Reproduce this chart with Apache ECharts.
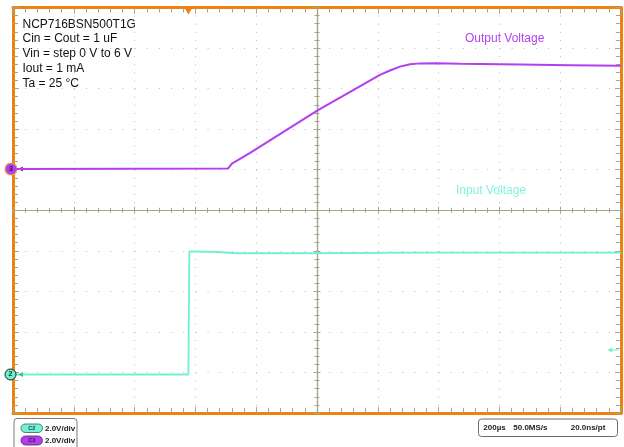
<!DOCTYPE html>
<html>
<head>
<meta charset="utf-8">
<script src="https://cdn.jsdelivr.net/npm/echarts/dist/echarts.min.js"></script>
<style>
html,body{margin:0;padding:0;background:#fff;}
#c{width:624px;height:447px;}
</style>
</head>
<body>
<div id="c"></div>
<script>
// ---- Data ----
const timePerDivUs = 200;          // 200 µs/div
const voltsPerDiv = 2;             // 2.0 V/div, both channels
const divisionsX = 10;
const divisionsY = 10;
// ground reference of each channel, in divisions from screen centre
const outputGroundDiv = 1.017;     // C3 (purple)
const inputGroundDiv = -4.05;      // C2 (cyan)

// Output voltage (C3), time in µs from left edge, volts
const outputT = [0, 707, 720, 780, 878, 1002, 1109, 1207, 1240, 1273, 1306, 1339, 1395, 1470, 1668, 1832, 2000];
const outputV = [0, 0.02, 0.27, 0.80, 1.72, 2.89, 3.80, 4.64, 4.86, 5.05, 5.17, 5.21, 5.22, 5.19, 5.15, 5.12, 5.09];

// Input voltage (C2)
const inputT = [0, 577, 580, 671, 737, 944, 1339, 2000];
const inputV = [0, 0, 6.07, 6.04, 5.98, 5.98, 6.01, 6.01];

const triggerTimeUs = 577;
const triggerLevelV = 1.21;

const infoLines = ['NCP716BSN500T1G', 'Cin = Cout = 1 uF', 'Vin = step 0 V to 6 V', 'Iout = 1 mA', 'Ta = 25 °C'];
const statusTexts = ['200µs', '50.0MS/s', '20.0ns/pt'];

// ---- Styles ----
const ORANGE = '#f0820c';
const OLIVE = '#a4a48a';
const GRIDC = '#bcbcb4';
const PURPLE = '#b23ef0';
const CYAN = '#6ff0d2';
const FONT = '"Liberation Sans", Arial, sans-serif';

const tMax = timePerDivUs * divisionsX;
const halfY = divisionsY / 2;
const gridRect = {left: 13, top: 7.5, right: 3, bottom: 34};

function frameX(pos, split) {
  return {
    gridIndex: 0, type: 'value', min: 0, max: tMax, interval: timePerDivUs, position: pos,
    axisLine: {show: true, onZero: false, lineStyle: {color: ORANGE, width: 3}},
    axisTick: {show: true, inside: true, length: 6, lineStyle: {color: OLIVE, width: 1}},
    minorTick: {show: true, splitNumber: 5, length: 5, lineStyle: {color: OLIVE, width: 1}},
    axisLabel: {show: false},
    splitLine: {show: split, lineStyle: {color: GRIDC, width: 1, type: [1, 7.11]}}
  };
}
function frameY(pos, split) {
  return {
    gridIndex: 0, type: 'value', min: -halfY, max: halfY, interval: 1, position: pos,
    axisLine: {show: true, onZero: false, lineStyle: {color: ORANGE, width: 3}},
    axisTick: {show: true, inside: true, length: 6, lineStyle: {color: OLIVE, width: 1}},
    minorTick: {show: true, splitNumber: 5, length: 5, lineStyle: {color: OLIVE, width: 1}},
    axisLabel: {show: false},
    splitLine: {show: split, lineStyle: {color: GRIDC, width: 1, type: [1, 11.16]}}
  };
}
function crossAxis(grid, inside, half) {
  return {
    gridIndex: grid, type: 'value', min: -half, max: half, interval: 1,
    axisLine: {show: true, onZero: true, lineStyle: {color: OLIVE, width: 1.2}},
    axisTick: {show: true, inside: inside, length: 3.5, lineStyle: {color: OLIVE, width: 1}},
    minorTick: {show: true, splitNumber: 5, length: 2.5, lineStyle: {color: OLIVE, width: 1}},
    axisLabel: {show: false}, splitLine: {show: false}
  };
}
function hiddenAxis(grid, min, max) {
  return {gridIndex: grid, type: 'value', min: min, max: max, show: false, splitLine: {show: false}};
}

const outMin = (-halfY - outputGroundDiv) * voltsPerDiv, outMax = (halfY - outputGroundDiv) * voltsPerDiv;
const inMin = (-halfY - inputGroundDiv) * voltsPerDiv, inMax = (halfY - inputGroundDiv) * voltsPerDiv;

const outputData = outputT.map((t, i) => [t, outputV[i]]);
const inputData = inputT.map((t, i) => [t, inputV[i]]);

const chart = echarts.init(document.getElementById('c'), null, {renderer: 'canvas'});

const graphics = [];
infoLines.forEach((s, i) => {
  graphics.push({type: 'text', left: 22.5, top: 25.3 + i * 14.85 - 7, silent: true,
    style: {text: s, font: '12px ' + FONT, fill: '#111', textVerticalAlign: 'top'}});
});
graphics.push({type: 'text', left: 465, top: 33, style: {text: 'Output Voltage', font: '12px ' + FONT, fill: '#b440f0'}});
graphics.push({type: 'text', left: 456, top: 184.5, style: {text: 'Input Voltage', font: '12px ' + FONT, fill: '#82f4dc'}});
// channel boxes
graphics.push({type: 'rect', shape: {x: 14, y: 418.5, width: 63, height: 34, r: 3}, style: {fill: '#fff', stroke: '#7a7a7a', lineWidth: 1}});
graphics.push({type: 'rect', shape: {x: 21, y: 424, width: 21.5, height: 8.5, r: 4.25}, style: {fill: '#74f2d8', stroke: '#3c5c58', lineWidth: 0.8}});
graphics.push({type: 'text', x: 31.7, y: 428.3, style: {text: 'C2', font: 'bold 5.5px ' + FONT, fill: '#1c3a36', textAlign: 'center', textVerticalAlign: 'middle'}});
graphics.push({type: 'text', x: 45, y: 428.3, style: {text: '2.0V/div', font: 'bold 8px ' + FONT, fill: '#222', textVerticalAlign: 'middle'}});
graphics.push({type: 'rect', shape: {x: 21, y: 436, width: 21.5, height: 9, r: 4.5}, style: {fill: '#b040ea', stroke: '#5a2070', lineWidth: 0.8}});
graphics.push({type: 'text', x: 31.7, y: 440.5, style: {text: 'C3', font: 'bold 5.5px ' + FONT, fill: '#3a1050', textAlign: 'center', textVerticalAlign: 'middle'}});
graphics.push({type: 'text', x: 45, y: 440.5, style: {text: '2.0V/div', font: 'bold 8px ' + FONT, fill: '#222', textVerticalAlign: 'middle'}});
// timebase box
graphics.push({type: 'rect', shape: {x: 478.5, y: 419, width: 139, height: 17.5, r: 3}, style: {fill: '#fff', stroke: '#6a6a6a', lineWidth: 1}});
[483.3, 513.3, 570.7].forEach((x, i) => {
  graphics.push({type: 'text', x: x, y: 428.2, style: {text: statusTexts[i], font: 'bold 8px ' + FONT, fill: '#222', textVerticalAlign: 'middle'}});
});

const option = {
  animation: false,
  backgroundColor: '#ffffff',
  grid: [
    Object.assign({}, gridRect),
    Object.assign({}, gridRect),
    Object.assign({}, gridRect),
    Object.assign({}, gridRect),
    Object.assign({}, gridRect)
  ],
  xAxis: [
    frameX('bottom', true),
    frameX('top', false),
    crossAxis(1, true, divisionsX / 2),
    crossAxis(2, false, divisionsX / 2),
    hiddenAxis(3, 0, tMax),
    hiddenAxis(4, 0, tMax)
  ],
  yAxis: [
    frameY('left', true),
    frameY('right', false),
    crossAxis(1, true, halfY),
    crossAxis(2, false, halfY),
    hiddenAxis(3, outMin, outMax),
    hiddenAxis(4, inMin, inMax)
  ],
  series: [
    {
      type: 'line', name: 'Output Voltage', xAxisIndex: 4, yAxisIndex: 4, data: outputData,
      showSymbol: false, smooth: false, lineStyle: {color: PURPLE, width: 2}, z: 5,
      markPoint: {
        silent: true, animation: false,
        data: [
          {coord: [0, 0], symbol: 'path://M0,5 L8,0 L8,10 Z', symbolSize: [5, 5], symbolOffset: [7.5, 0],
            itemStyle: {color: '#8a20c0'}, label: {show: false}},
          {coord: [0, 0], symbol: 'circle', symbolSize: 12, symbolOffset: [-2, 0],
            itemStyle: {color: '#b040e8', borderColor: '#e8a060', borderWidth: 1.2},
            label: {show: true, position: 'inside', formatter: '3', fontSize: 7, fontWeight: 'bold', color: '#301040'}}
        ]
      }
    },
    {
      type: 'line', name: 'Input Voltage', xAxisIndex: 5, yAxisIndex: 5, data: inputData,
      showSymbol: false, smooth: false, lineStyle: {color: CYAN, width: 1.8}, z: 4,
      markPoint: {
        silent: true, animation: false,
        data: [
          {coord: [0, 0], symbol: 'path://M0,5 L8,0 L8,10 Z', symbolSize: [5, 5], symbolOffset: [7.5, 0],
            itemStyle: {color: '#40c0a0'}, label: {show: false}},
          {coord: [0, 0], symbol: 'circle', symbolSize: 11, symbolOffset: [-2.5, 0],
            itemStyle: {color: '#6af0d0', borderColor: '#1a1a1a', borderWidth: 1},
            label: {show: true, position: 'inside', formatter: '2', fontSize: 7, fontWeight: 'bold', color: '#103030'}},
          {coord: [triggerTimeUs, inMax], symbol: 'path://M0,0 L10,0 L5,8 Z', symbolSize: [7, 6], symbolOffset: [0, 4],
            itemStyle: {color: ORANGE}, label: {show: false}},
          {coord: [tMax, triggerLevelV], symbol: 'path://M0,5 L6,0 L6,4 L14,4 L14,6 L6,6 L6,10 Z', symbolSize: [11, 5], symbolOffset: [-8, 0],
            itemStyle: {color: CYAN}, label: {show: false}}
        ]
      }
    }
  ],
  graphic: graphics
};
chart.setOption(option);
</script>
</body>
</html>
